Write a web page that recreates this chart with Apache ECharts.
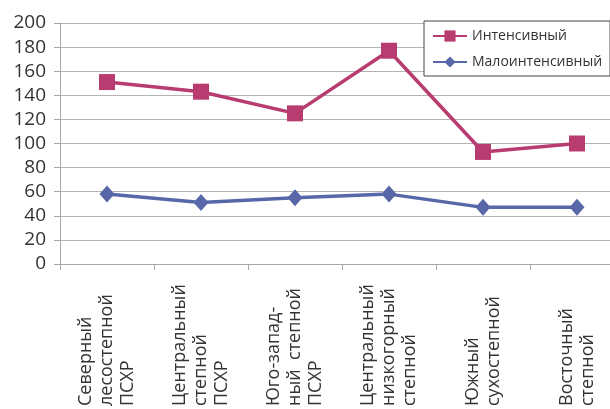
<!DOCTYPE html>
<html><head><meta charset="utf-8">
<script src="https://cdn.jsdelivr.net/npm/echarts@6/dist/echarts.min.js"></script>
<style>html,body{margin:0;padding:0;background:#fff;overflow:hidden;width:610px;height:409px}#c{width:624px;height:409px}</style>
</head><body><div id="c"></div>
<script>
const categories = ["Северный\nлесостепной\nПСХР","Центральный\nстепной\nПСХР","Юго-запад-\nный  степной\nПСХР","Центральный\nнизкогорный\nстепной","Южный\nсухостепной","Восточный\nстепной"];
const intensive = [151, 143, 125, 177, 93, 100];
const lowIntensive = [58, 51, 55, 58, 47, 47];
const yTicks = {min: 0, max: 200, interval: 20};
const chart = echarts.init(document.getElementById('c'), null, {renderer: 'canvas'});
chart.setOption({
  animation: false,
  backgroundColor: '#fff',
  grid: {left: 60, right: 0, top: 23, bottom: 144, containLabel: false},
  legend: {
    left: 424, top: 21, orient: 'vertical', itemWidth: 34, itemHeight: 14, itemGap: 12,
    borderColor: '#444', borderWidth: 1, padding: [8, 8, 7, 8], backgroundColor: '#fff',
    textStyle: {fontFamily: 'Open Sans', fontSize: 14, color: '#333'},
    data: ['Интенсивный', 'Малоинтенсивный']
  },
  xAxis: {
    type: 'category', data: categories, boundaryGap: true,
    axisLine: {lineStyle: {color: '#a6a6a6', width: 1}},
    axisTick: {show: true, length: 6, lineStyle: {color: '#a6a6a6'}},
    axisLabel: {rotate: 90, align: 'left', margin: 142, interval: 0, fontFamily: 'Open Sans', fontSize: 18, color: '#333', lineHeight: 21}
  },
  yAxis: {
    type: 'value', min: yTicks.min, max: yTicks.max, interval: yTicks.interval,
    axisLine: {show: true, lineStyle: {color: '#a6a6a6'}},
    axisTick: {show: true, length: 6, lineStyle: {color: '#a6a6a6'}},
    splitLine: {lineStyle: {color: '#b3b3b3', width: 1}},
    axisLabel: {margin: 14, fontFamily: 'Open Sans', fontSize: 19, color: '#333'}
  },
  series: [
    {name: 'Интенсивный', type: 'line', data: intensive, symbol: 'rect', symbolSize: 16,
     lineStyle: {color: '#B83C70', width: 3.5}, itemStyle: {color: '#B83C70'}},
    {name: 'Малоинтенсивный', type: 'line', data: lowIntensive, symbol: 'diamond', symbolSize: [15, 17],
     lineStyle: {color: '#5767A8', width: 3.5}, itemStyle: {color: '#5767A8'}}
  ]
});
</script></body></html>
